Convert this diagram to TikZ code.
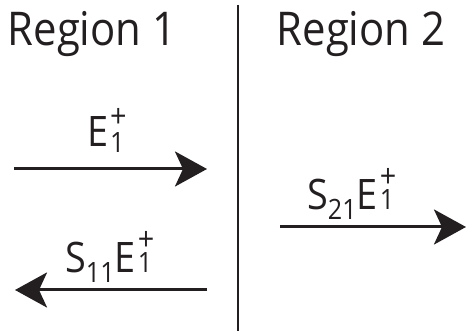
\documentclass[tikz,border=0pt]{standalone}
\usepackage{fontspec}
\setmainfont[FakeStretch=0.9]{Open Sans}
\usetikzlibrary{arrows.meta}
\definecolor{ink}{HTML}{231F20}
\newcommand{\bigf}{\fontsize{42}{42}\selectfont}
\newcommand{\hdrf}{\fontsize{46.5}{46.5}\selectfont}
\newcommand{\smf}{\fontsize{28}{28}\selectfont}
\newcommand{\plf}{\fontsize{32}{32}\selectfont}
\tikzset{
  hdr/.style={inner sep=0pt, text=ink, font=\hdrf, anchor=base},
  lbl/.style={inner sep=0pt, text=ink, font=\bigf, anchor=base west},
  wave/.style={line width=3pt, draw=ink, -{Stealth[length=32pt,width=35pt,inset=8pt]}},
  divider/.style={line width=2pt, draw=ink}
}
\begin{document}
\begin{tikzpicture}[x=1pt,y=1pt]
\useasboundingbox (0,0) rectangle (467,331);
% divider
\coordinate (dtop) at (238,326);
\coordinate (dbot) at (238,0);
\draw[divider] (dtop) -- (dbot);
% headers
\node[hdr] (r1) at (92,285) {Region 1};
\node[hdr] (r2) at (361,285) {Region 2};
% arrows
\coordinate (a1s) at (14,162);
\coordinate (a1e) at (207,162);
\draw[wave] (a1s) -- (a1e);
\coordinate (a2s) at (207,41);
\coordinate (a2e) at (15,41);
\draw[wave] (a2s) -- (a2e);
\coordinate (a3s) at (280,104);
\coordinate (a3e) at (466,104);
\draw[wave] (a3s) -- (a3e);
% labels
\node[lbl] (l1) at (87,184) {E\kern2pt\rlap{\raisebox{-6pt}{\smf 1}}\raisebox{19pt}{\plf +}};
\node[lbl] (l2) at (65,58) {S\raisebox{-10pt}{\smf 11}E\kern2pt\rlap{\smf 1}\raisebox{22pt}{\plf +}};
\node[lbl] (l3) at (307,121) {S\raisebox{-10pt}{\smf 21}E\kern2pt\rlap{\smf 1}\raisebox{22pt}{\plf +}};
\end{tikzpicture}
\end{document}
